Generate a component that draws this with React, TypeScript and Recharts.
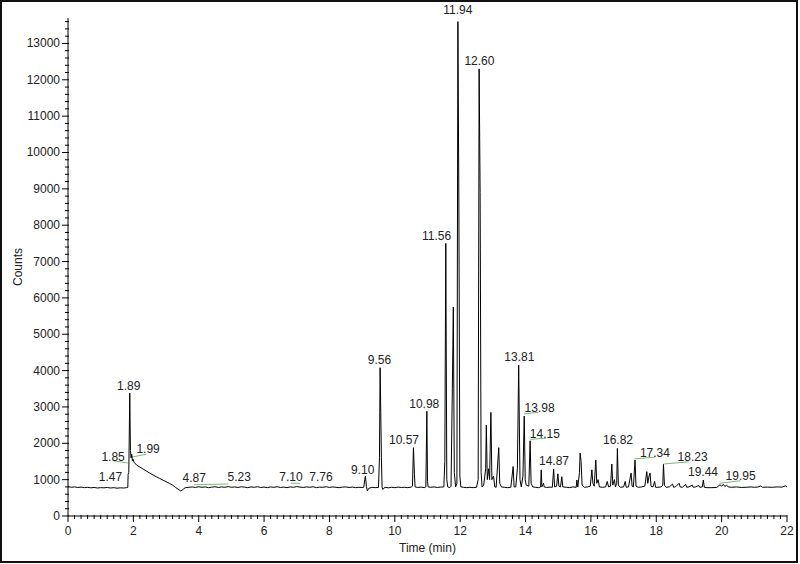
import React from 'react';
import { LineChart, Line, XAxis, YAxis, ReferenceDot, ReferenceLine } from 'recharts';

// ============================================
// DATA
// ============================================

// [time (min), counts]
const traceEarly: [number, number][] = [
  [0, 810], [0.1, 790], [0.2, 800], [0.3, 785], [0.4, 795], [0.5, 780], [0.6, 790], [0.7, 775],
  [0.8, 785], [0.9, 770], [1.0, 780], [1.1, 775], [1.2, 785], [1.3, 770], [1.4, 780], [1.5, 765],
  [1.6, 775], [1.7, 770], [1.8, 780], [1.83, 785], [1.84, 1150], [1.86, 1200], [1.87, 1900],
  [1.89, 3380], [1.91, 1800], [1.93, 1600], [1.95, 1700], [1.97, 1520], [1.99, 1560], [2.02, 1480],
  [2.1, 1400], [2.2, 1345], [2.3, 1290], [2.4, 1235], [2.5, 1180], [2.6, 1130], [2.7, 1080],
  [2.8, 1035], [2.9, 990], [3.0, 945], [3.1, 900], [3.2, 850], [3.3, 780], [3.4, 720], [3.45, 690],
  [3.5, 710], [3.55, 760], [3.6, 780], [3.7, 790],
];

const traceBaseline: [number, number][] = [
  [3.8, 800], [3.9, 785], [4.0, 805], [4.1, 790], [4.2, 800], [4.3, 780], [4.4, 795], [4.5, 805],
  [4.6, 785], [4.7, 800], [4.8, 790], [4.9, 810], [5.0, 790], [5.1, 800], [5.2, 785], [5.3, 805],
  [5.4, 795], [5.5, 780], [5.6, 800], [5.7, 790], [5.8, 805], [5.9, 785], [6.0, 795], [6.1, 780],
  [6.2, 800], [6.3, 790], [6.4, 805], [6.5, 785], [6.6, 795], [6.7, 780], [6.8, 800], [6.9, 790],
  [7.0, 810], [7.1, 795], [7.2, 785], [7.3, 800], [7.4, 790], [7.5, 805], [7.6, 780], [7.7, 795],
  [7.8, 790], [7.9, 805], [8.0, 785], [8.1, 800], [8.2, 790], [8.3, 780], [8.4, 795], [8.5, 800],
  [8.6, 785], [8.7, 795], [8.8, 780], [8.9, 790], [9.0, 785], [9.05, 790], [9.08, 1000], [9.1, 1100],
  [9.13, 820], [9.16, 690], [9.2, 760], [9.3, 790], [9.4, 780], [9.5, 785], [9.53, 1600],
  [9.55, 4080], [9.57, 2850], [9.59, 1600], [9.61, 800], [9.63, 730], [9.7, 790],
];

const traceMain: [number, number][] = [
  [9.8, 775], [9.9, 790], [10.0, 780], [10.1, 795], [10.2, 785], [10.3, 790], [10.4, 780],
  [10.5, 795], [10.54, 820], [10.57, 1880], [10.6, 1150], [10.62, 800], [10.7, 785], [10.8, 795],
  [10.9, 780], [10.95, 800], [10.98, 2880], [11.0, 950], [11.02, 800], [11.1, 790], [11.2, 800],
  [11.3, 785], [11.4, 795], [11.5, 800], [11.53, 1500], [11.56, 7500], [11.59, 1000], [11.62, 800],
  [11.68, 780], [11.72, 820], [11.76, 3500], [11.79, 5750], [11.82, 1200], [11.86, 800], [11.9, 900],
  [11.93, 13600], [11.96, 8500], [11.99, 1100], [12.02, 800], [12.1, 790], [12.2, 780], [12.3, 790],
  [12.4, 780], [12.5, 790], [12.55, 1000], [12.58, 12300], [12.61, 8900], [12.64, 1200], [12.67, 800],
  [12.72, 850], [12.78, 1300], [12.8, 2500], [12.83, 1000], [12.87, 1300], [12.9, 1000], [12.94, 2850],
  [12.97, 1000], [13.02, 1100], [13.06, 800], [13.1, 790], [13.18, 1880], [13.21, 900], [13.26, 800],
  [13.35, 790], [13.45, 780], [13.55, 790], [13.62, 1360], [13.65, 800], [13.7, 800], [13.75, 1300],
  [13.79, 4150], [13.83, 1000], [13.87, 800], [13.92, 1100], [13.96, 2750], [13.99, 1000],
  [14.02, 850], [14.1, 820], [14.14, 2070], [14.17, 900], [14.22, 800], [14.3, 790], [14.4, 780],
  [14.46, 800], [14.48, 1270], [14.5, 800], [14.55, 900], [14.57, 800],
];

const traceLate: [number, number][] = [
  [14.65, 785], [14.75, 795], [14.82, 790], [14.86, 1290], [14.89, 800], [14.95, 820], [14.99, 1160],
  [15.02, 820], [15.07, 800], [15.11, 1080], [15.14, 800], [15.25, 790], [15.35, 780], [15.45, 800],
  [15.55, 790], [15.57, 990], [15.6, 800], [15.65, 1200], [15.67, 1730], [15.7, 1500], [15.73, 850],
  [15.8, 790], [15.9, 800], [15.98, 820], [16.03, 1270], [16.06, 900], [16.1, 820], [16.15, 1540],
  [16.18, 900], [16.22, 1000], [16.26, 800], [16.35, 790], [16.45, 800], [16.5, 950], [16.54, 800],
  [16.6, 820], [16.64, 1430], [16.67, 850], [16.72, 1000], [16.75, 800], [16.79, 900], [16.81, 1860],
  [16.84, 850], [16.9, 790], [17.0, 800], [17.05, 950], [17.08, 790], [17.15, 800], [17.23, 1180],
  [17.26, 820], [17.3, 800], [17.35, 1540], [17.38, 820], [17.45, 790], [17.55, 800], [17.65, 820],
  [17.71, 1220], [17.74, 900], [17.78, 1100], [17.81, 1180], [17.84, 820], [17.9, 800], [17.95, 950],
  [17.98, 790], [18.05, 790], [18.15, 800], [18.2, 850], [18.22, 1420], [18.25, 850], [18.3, 790],
  [18.4, 800], [18.5, 880], [18.53, 790], [18.6, 810], [18.7, 900], [18.73, 800], [18.8, 790],
  [18.9, 870], [18.93, 790], [19.0, 800], [19.1, 850], [19.13, 790], [19.2, 800], [19.3, 840],
  [19.33, 790], [19.41, 800], [19.44, 990], [19.47, 790], [19.55, 780], [19.7, 780], [19.85, 785],
  [19.95, 860], [20.0, 820], [20.05, 870], [20.1, 810], [20.15, 850], [20.2, 800], [20.3, 790],
  [20.45, 800], [20.6, 785], [20.75, 790], [20.9, 800], [21.0, 790], [21.1, 795], [21.2, 830],
  [21.25, 790], [21.4, 795], [21.55, 790], [21.7, 800], [21.85, 795], [21.95, 830], [22.0, 800],
];

// Peak labels: text, label centre (time, counts)
const peakLabels = ['1.47', '1.85', '1.89', '1.99', '4.87', '5.23', '7.10', '7.76', '9.10', '9.56',
  '10.57', '10.98', '11.56', '11.94', '12.60', '13.81', '13.98', '14.15', '14.87', '16.82',
  '17.34', '18.23', '19.44', '19.95'];
const labelTimes = [1.3, 1.38, 1.86, 2.45, 3.86, 5.24, 6.82, 7.74, 9.02, 9.53,
  10.28, 10.9, 11.28, 11.93, 12.59, 13.81, 14.43, 14.59, 14.87, 16.83,
  17.96, 19.11, 19.43, 20.58];
const labelCounts = [1070, 1630, 3590, 1840, 1040, 1080, 1070, 1080, 1270, 4300,
  2090, 3100, 7720, 13940, 12520, 4390, 2990, 2260, 1520, 2110,
  1740, 1630, 1220, 1100];

// Integration baseline markers (green)
const baseStartT = [1.37, 1.94, 3.86, 6.82, 13.95, 14.14, 17.33, 18.22, 19.94];
const baseStartC = [1520, 1620, 860, 900, 2810, 2110, 1570, 1430, 900];
const baseEndT = [1.83, 2.4, 4.9, 7.1, 14.39, 14.63, 17.97, 18.99, 20.57];
const baseEndC = [1460, 1700, 880, 900, 2850, 2140, 1620, 1490, 970];

const xMajorTicks = [0, 2, 4, 6, 8, 10, 12, 14, 16, 18, 20, 22];
const yMajorTicks = [0, 1000, 2000, 3000, 4000, 5000, 6000, 7000, 8000, 9000, 10000, 11000, 12000, 13000];

// minor ticks every 0.2 min / 200 counts
const xTicks = Array.from({ length: 111 }, (_, i) => Math.round(i * 2) / 10);
const yTicks = Array.from({ length: 69 }, (_, i) => i * 200);

const FONT = '"Liberation Sans", Arial, sans-serif';
const TEXT = '#222';
const GREEN = '#7cb87c';
const TICK_SIZE = 6;
const TICK_MARGIN = 2;

const chartData = [...traceEarly, ...traceBaseline, ...traceMain, ...traceLate].map(([t, v]) => ({ t, v }));

// ============================================
// TICKS
// ============================================

function XTick({ x, y, payload }: any) {
  const ay = y - TICK_SIZE - TICK_MARGIN;
  const major = xMajorTicks.includes(payload.value);
  return (
    <g>
      <line x1={x} x2={x} y1={ay - 1} y2={ay + (major ? 6 : 3)} stroke="#000" strokeWidth={1} />
      {major && (
        <text x={x} y={ay + 19} textAnchor="middle" fontSize={12} fontFamily={FONT} fill={TEXT}>
          {payload.value}
        </text>
      )}
    </g>
  );
}

function YTick({ x, y, payload }: any) {
  const ax = x + TICK_SIZE + TICK_MARGIN;
  const major = yMajorTicks.includes(payload.value);
  return (
    <g>
      <line x1={ax - (major ? 6 : 3)} x2={ax + 1} y1={y} y2={y} stroke="#000" strokeWidth={1} />
      {major && (
        <text x={ax - 8} y={y} dy={4} textAnchor="end" fontSize={12} fontFamily={FONT} fill={TEXT}>
          {payload.value}
        </text>
      )}
    </g>
  );
}

// ============================================
// COMPONENT
// ============================================

export default function App() {
  return (
    <div style={{ position: 'absolute', left: 0, top: 0, width: 800, height: 564, background: '#fff' }}>
      <div
        style={{
          position: 'absolute',
          left: 0,
          top: 0,
          width: 798,
          height: 563,
          border: '2px solid #111',
          boxSizing: 'border-box',
        }}
      />
      <div style={{ position: 'absolute', left: 0, top: 0 }}>
        <LineChart width={800} height={564} data={chartData} margin={{ top: 18, right: 13, bottom: 0, left: 0 }}>
          <XAxis
            dataKey="t"
            type="number"
            domain={[0, 22]}
            ticks={xTicks}
            interval={0}
            height={48}
            tickSize={TICK_SIZE}
            tickMargin={TICK_MARGIN}
            tickLine={false}
            tick={<XTick />}
            axisLine={{ stroke: '#000' }}
            allowDataOverflow
            label={{
              value: 'Time (min)',
              position: 'insideBottom',
              offset: 12,
              fontSize: 12,
              fontFamily: FONT,
              fill: TEXT,
            }}
          />
          <YAxis
            type="number"
            domain={[0, 13700]}
            ticks={yTicks}
            interval={0}
            width={68}
            tickSize={TICK_SIZE}
            tickMargin={TICK_MARGIN}
            tickLine={false}
            tick={<YTick />}
            axisLine={{ stroke: '#000' }}
            allowDataOverflow
            label={{
              content: ({ viewBox }: any) => (
                <text
                  transform={`translate(${viewBox.x + 18}, ${viewBox.y + viewBox.height / 2}) rotate(-90)`}
                  textAnchor="middle"
                  dy={4}
                  fontSize={12}
                  fontFamily={FONT}
                  fill={TEXT}
                >
                  Counts
                </text>
              ),
            }}
          />
          {baseStartT.map((t, i) => (
            <ReferenceLine
              key={`base-${i}`}
              segment={[
                { x: t, y: baseStartC[i] },
                { x: baseEndT[i], y: baseEndC[i] },
              ]}
              stroke={GREEN}
              strokeWidth={1}
              ifOverflow="visible"
            />
          ))}
          <Line
            type="linear"
            dataKey="v"
            stroke="#000"
            strokeWidth={1}
            dot={false}
            isAnimationActive={false}
          />
          {peakLabels.map((txt, i) => (
            <ReferenceDot
              key={`lbl-${i}`}
              x={labelTimes[i]}
              y={labelCounts[i]}
              r={0}
              fill="none"
              stroke="none"
              ifOverflow="visible"
              label={{ value: txt, position: 'center', fontSize: 12, fontFamily: FONT, fill: TEXT }}
            />
          ))}
        </LineChart>
      </div>
    </div>
  );
}
